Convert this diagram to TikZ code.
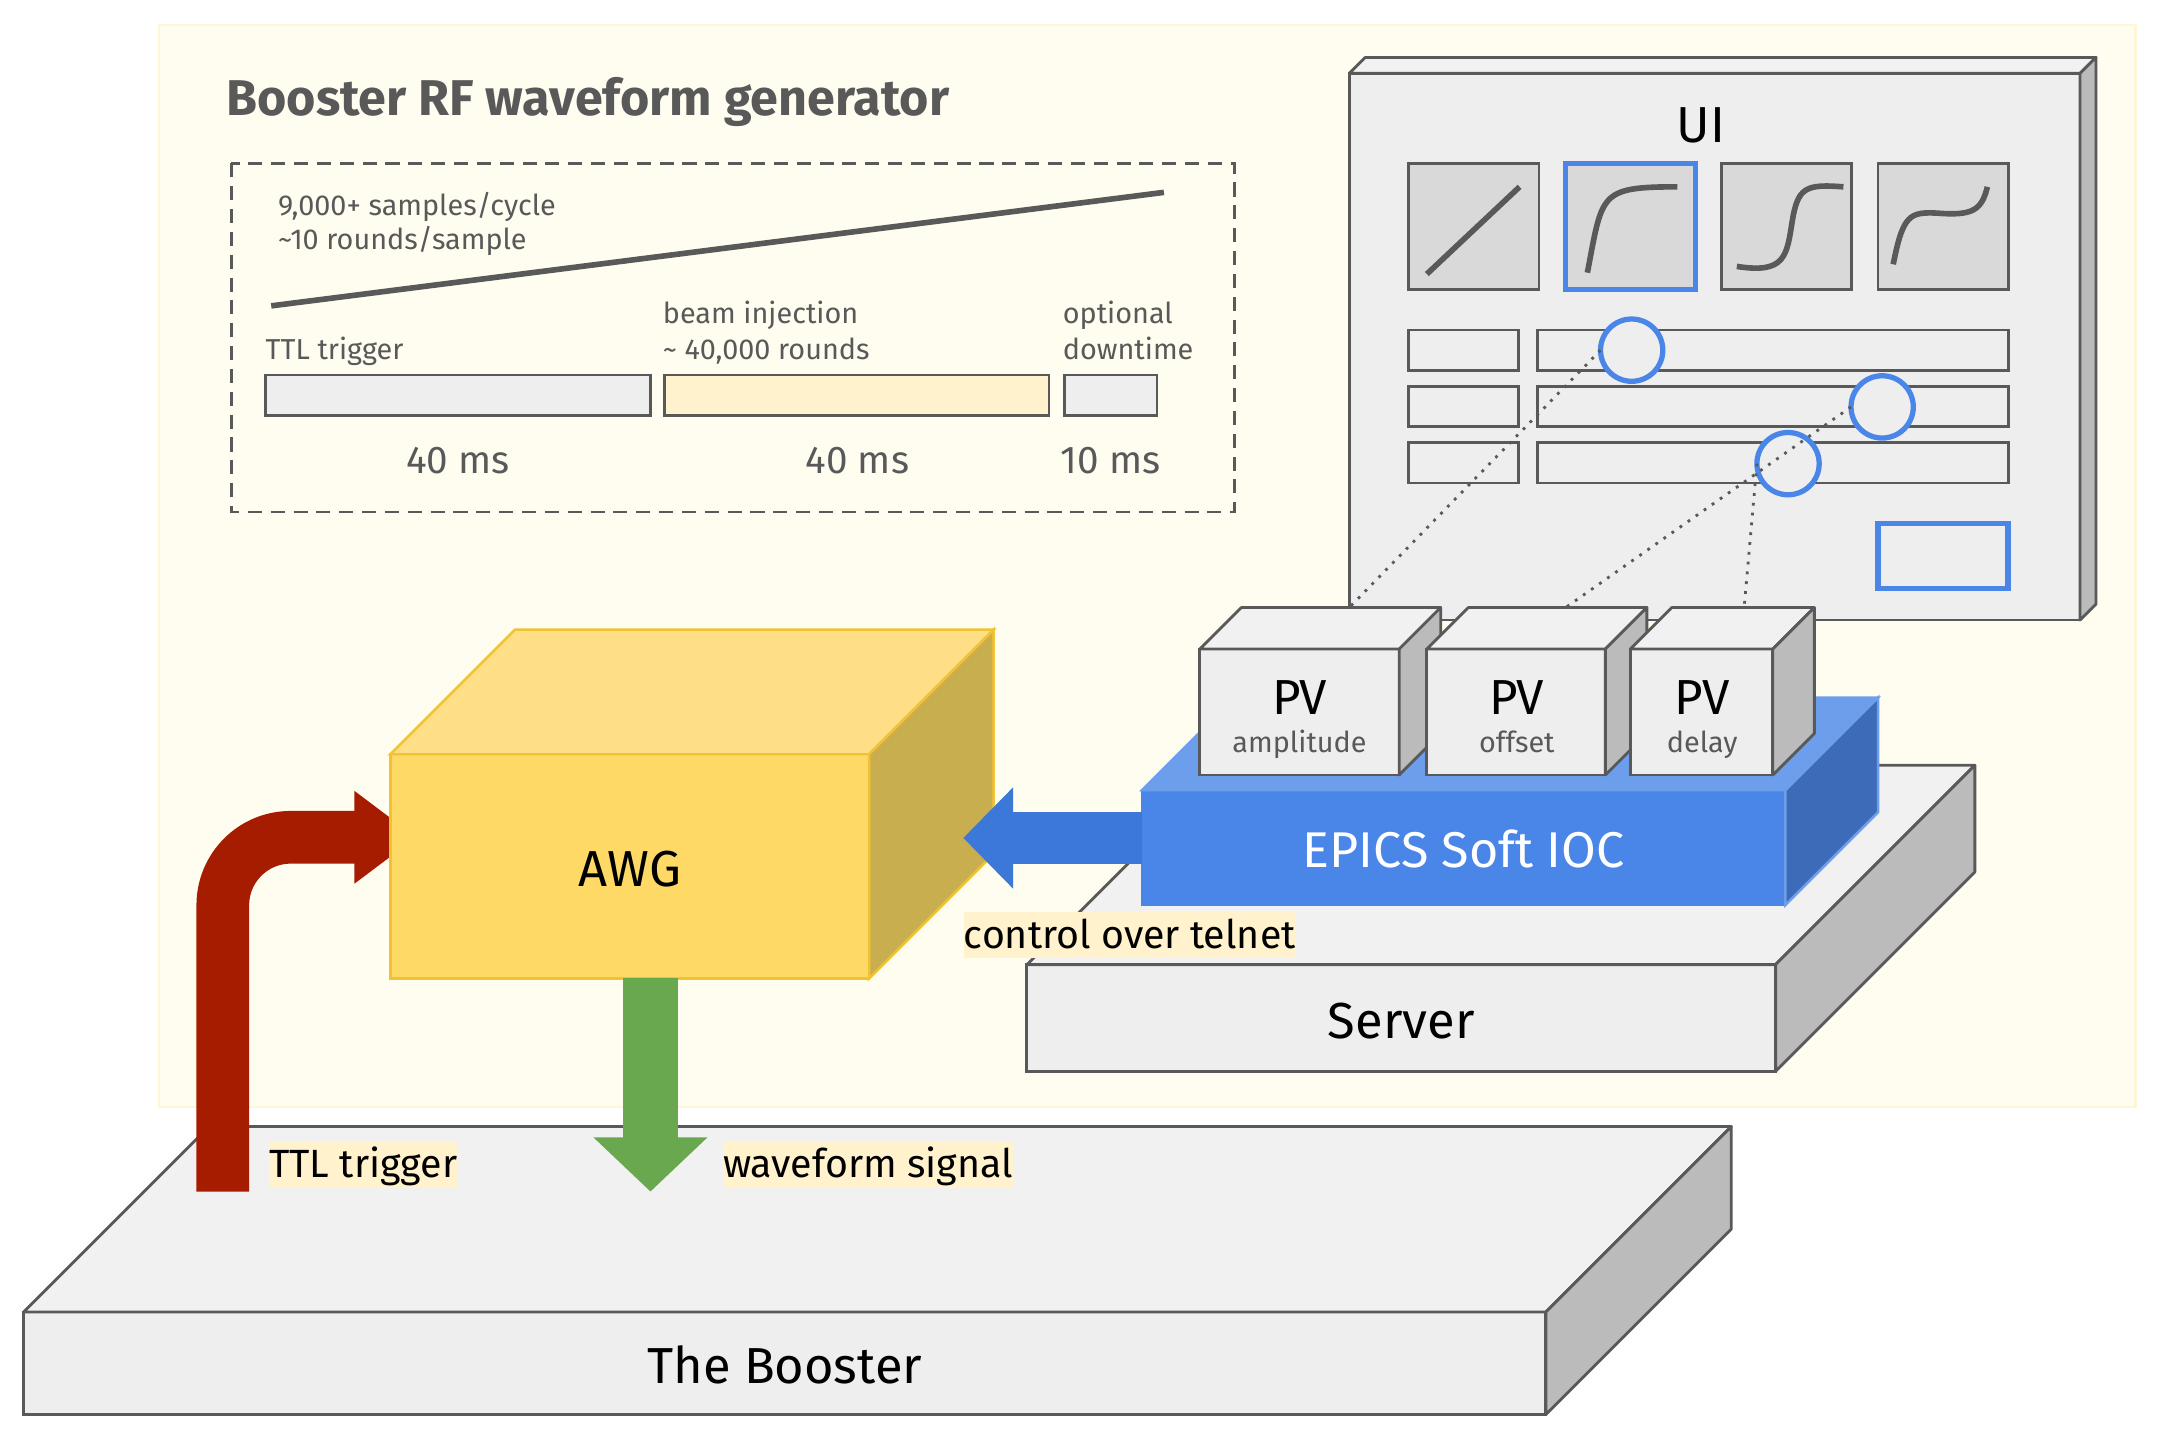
\documentclass[tikz,border=0pt]{standalone}
\usepackage{fontspec}
\setmainfont{Fira Sans}
\usetikzlibrary{arrows.meta}

\newcommand{\pxu}{0.013839cm}

\definecolor{PanelFill}{HTML}{FFFDF0}
\definecolor{PanelEdge}{HTML}{FFF6D6}
\definecolor{Note}{HTML}{FFF2CC}
\definecolor{Ink}{HTML}{595959}
\definecolor{FrontGrey}{HTML}{EEEEEE}
\definecolor{TopGrey}{HTML}{F1F1F1}
\definecolor{SideGrey}{HTML}{BBBBBB}
\definecolor{ThumbGrey}{HTML}{D9D9D9}
\definecolor{UiBlue}{HTML}{4A86E8}
\definecolor{IocTop}{HTML}{6D9EEB}
\definecolor{IocSide}{HTML}{3D6BB8}
\definecolor{ArrowBlue}{HTML}{3C78D8}
\definecolor{AwgFront}{HTML}{FFD966}
\definecolor{AwgTop}{HTML}{FFDF85}
\definecolor{AwgSide}{HTML}{C9AE50}
\definecolor{AwgEdge}{HTML}{F1C232}
\definecolor{TtlRed}{HTML}{A61C00}
\definecolor{WaveGreen}{HTML}{6AA84F}

\tikzset{
  face/.style={draw=Ink, line width=0.8pt, fill=FrontGrey, outer sep=0pt, inner sep=0pt},
  greytop/.style={draw=Ink, line width=0.8pt, fill=TopGrey, line join=round},
  greyside/.style={draw=Ink, line width=0.8pt, fill=SideGrey, line join=round},
  bar/.style={face, minimum height=29*\pxu},
  field/.style={face, minimum height=29*\pxu},
  thumb/.style={face, fill=ThumbGrey, minimum width=94*\pxu, minimum height=91*\pxu},
  knob/.style={circle, draw=UiBlue, line width=1.5pt, fill=FrontGrey, minimum size=45*\pxu, outer sep=0pt, inner sep=0pt},
  curve/.style={draw=Ink, line width=1.6pt},
  dotline/.style={draw=Ink, line width=0.8pt, dotted},
  small/.style={text=Ink, font=\fontsize{8.2pt}{10pt}\selectfont, inner sep=0pt, outer sep=0pt, text height=6.2pt, text depth=2pt},
  middle/.style={text=Ink, font=\fontsize{11pt}{13pt}\selectfont, inner sep=0pt},
  big/.style={text=black, font=\fontsize{14.4pt}{17pt}\selectfont, text height=11.5pt, text depth=0pt},
  note/.style={fill=Note, text=black, font=\fontsize{11.2pt}{13pt}\selectfont, inner xsep=0pt, inner ysep=1pt, text height=9.5pt, text depth=1.5pt},
}

% top and side of a box, from the front face node
\newcommand{\cubefaces}[4]{
  \draw[#3] (#1.north west) -- ++(#2,-#2) -- ([shift={(#2*\pxu,#2*\pxu)}]#1.north east) -- (#1.north east) -- cycle;
  \draw[#4] (#1.north east) -- ([shift={(#2*\pxu,#2*\pxu)}]#1.north east) -- ([shift={(#2*\pxu,#2*\pxu)}]#1.south east) -- (#1.south east) -- cycle;
}

\begin{document}
\begin{tikzpicture}[x=0.013839cm, y=-0.013839cm]

\useasboundingbox (0,0) rectangle (1568,1039);

% Yellow panel
\draw[draw=PanelEdge, fill=PanelFill, line width=0.7pt] (115,18) rectangle (1543,800);

% Title and timing box
\node[text=Ink, anchor=west, inner sep=0pt, font=\fontsize{14.3pt}{17pt}\selectfont\bfseries] (title) at (163,74) {Booster RF waveform generator};
\draw[draw=Ink, line width=0.8pt, dash pattern=on 4pt off 2.5pt] (167,118) rectangle (892,370);
\draw[draw=Ink, line width=1.6pt] (196,221) -- (841,139);

\node[small, anchor=west] (samples) at (201,150.3) {9,000+ samples/cycle};
\node[small, anchor=west] (rounds) at (201,175.3) {\textasciitilde10 rounds/sample};
\node[small, anchor=west] (trig) at (192,254.4) {TTL trigger};
\node[small, anchor=west] (beam) at (479,228.4) {beam injection};
\node[small, anchor=west] (beamrounds) at (479,254.4) {\textasciitilde\ 40,000 rounds};
\node[small, anchor=west] (optional) at (768,228.4) {optional};
\node[small, anchor=west] (downtime) at (768,254.4) {downtime};

\node[bar, minimum width=278*\pxu] (barA) at (331,285.5) {};
\node[bar, fill=Note, minimum width=278*\pxu] (barB) at (619,285.5) {};
\node[bar, minimum width=67*\pxu] (barC) at (802.5,285.5) {};

\node[middle] (timeA) at (331,333) {40 ms};
\node[middle] (timeB) at (619.5,333) {40 ms};
\node[middle] (timeC) at (802.5,333) {10 ms};

% The Booster
\node[face, big, minimum width=1100*\pxu, minimum height=74*\pxu] (booster) at (567,985) {The Booster};
\cubefaces{booster}{134}{greytop}{greyside}

% Server
\node[face, big, minimum width=541*\pxu, minimum height=77*\pxu] (server) at (1012.5,735.5) {Server};
\cubefaces{server}{144}{greytop}{greyside}

% UI panel
\node[face, minimum width=528*\pxu, minimum height=395*\pxu] (ui) at (1239,250.5) {};
\cubefaces{ui}{11.5}{greytop}{greyside}
\node[big] (uiname) at (1229,88) {UI};

\node[thumb] (thumbA) at (1065,163.5) {};
\node[thumb, draw=UiBlue, line width=1.5pt] (thumbB) at (1178,163.5) {};
\node[thumb] (thumbC) at (1291,163.5) {};
\node[thumb] (thumbD) at (1404,163.5) {};

\draw[curve] (1031,198) -- (1098,135);
\draw[curve] (1147,197) .. controls (1158,140) and (1155,135) .. (1212,135);
\draw[curve] (1255,192.5) .. controls (1290,198) and (1291,185) .. (1295,160) .. controls (1299,135) and (1305,133) .. (1332,135);
\draw[curve] (1368,191) .. controls (1375,155) and (1380,153) .. (1400,154) .. controls (1425,156) and (1432,152) .. (1436,135);

\foreach \n/\y in {A/253,B/293.5,C/334.5}
{
  \node[field, minimum width=79*\pxu] (label\n) at (1057.5,\y) {};
  \node[field, minimum width=340*\pxu] (slider\n) at (1281,\y) {};
}

\node[knob] (knobA) at (1179,253) {};
\node[knob] (knobB) at (1360,294) {};
\node[knob] (knobC) at (1292,335) {};

\node[face, draw=UiBlue, line width=1.5pt, minimum width=94*\pxu, minimum height=47*\pxu] (okbtn) at (1404,401.5) {};

% Dotted links, the boxes go on top of their ends
\coordinate (linkA) at (972,442);
\coordinate (linkB) at (1127,442);
\coordinate (linkC) at (1260,442);
\draw[dotline] (knobA.west) -- (linkA);
\draw[dotline] (knobB.west) -- (linkB);
\draw[dotline] (knobC.west) -- (linkC);

% Soft IOC
\node[minimum width=465*\pxu, minimum height=83*\pxu, fill=UiBlue, draw=UiBlue, line width=0.7pt, outer sep=0pt, text=white, text height=11pt, text depth=0pt, font=\fontsize{14.3pt}{17pt}\selectfont] (ioc) at (1057.5,612.5) {EPICS Soft IOC};
\cubefaces{ioc}{67}{draw=IocTop, line width=0.7pt, fill=IocTop}{draw=IocTop, line width=0.7pt, fill=IocSide}

% PV boxes
\node[face, minimum width=144*\pxu, minimum height=91*\pxu] (pvA) at (939,514.5) {};
\cubefaces{pvA}{30}{greytop}{greyside}
\node[face, minimum width=129*\pxu, minimum height=91*\pxu] (pvB) at (1095.5,514.5) {};
\cubefaces{pvB}{30}{greytop}{greyside}
\node[face, minimum width=103*\pxu, minimum height=91*\pxu] (pvC) at (1229.5,514.5) {};
\cubefaces{pvC}{30}{greytop}{greyside}

\foreach \n/\x/\t in {A/939/amplitude,B/1096/offset,C/1230/delay}
{
  \node[big, font=\fontsize{14pt}{17pt}\selectfont, inner sep=0pt] (pvname\n) at (\x,502) {PV};
  \node[small] (pvtext\n) at (\x,538.4) {\t};
}

% Red trigger arrow goes under the AWG
\coordinate (ttlstart) at (161,861);
\coordinate (ttlend) at (301,605);
\draw[draw=TtlRed, line width=15pt, rounded corners=19.3pt, -{Triangle[length=17.7pt,width=25.2pt]}] (ttlstart) -- (161,605) -- (ttlend);

% AWG
\node[draw=AwgEdge, fill=AwgFront, line width=0.7pt, outer sep=0pt, big, minimum width=346*\pxu, minimum height=162*\pxu] (awg) at (455,626) {AWG};
\cubefaces{awg}{90}{draw=AwgEdge, line width=0.7pt, fill=AwgTop}{draw=AwgEdge, line width=0.7pt, fill=AwgSide}

% Arrows
\coordinate (ioctail) at (825,605.5);
\coordinate (awgport) at (696,605.5);
\draw[draw=ArrowBlue, line width=14.6pt, -{Triangle[length=14.2pt,width=28pt]}] (ioctail) -- (awgport);

\coordinate (awgbottom) at (470,707);
\coordinate (wavetip) at (470,861);
\draw[draw=WaveGreen, line width=15.8pt, -{Triangle[length=15.4pt,width=31.5pt]}] (awgbottom) -- (wavetip);

% Labels
\node[note, anchor=west] (telnet) at (696,675.5) {control over telnet};
\node[note, anchor=west] (ttl) at (194,841) {TTL trigger};
\node[note, anchor=west] (wave) at (522,841) {waveform signal};

\end{tikzpicture}
\end{document}
